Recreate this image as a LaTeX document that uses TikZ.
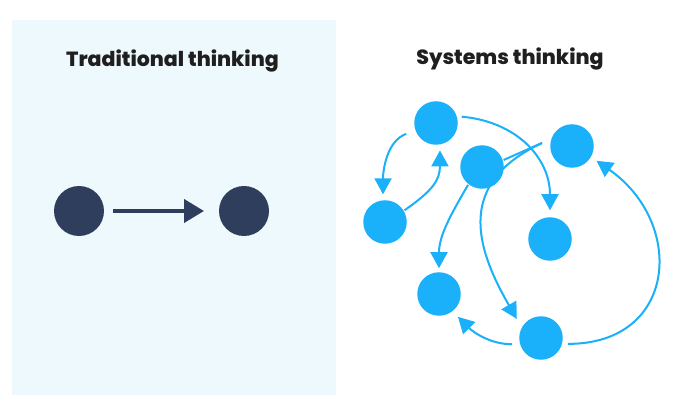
\documentclass[tikz,border=0pt]{standalone}
\usepackage{fontspec}
\setmainfont{Poppins}[BoldFont={Poppins ExtraBold}]
\usetikzlibrary{arrows.meta, positioning}
\definecolor{sysBlue}{HTML}{1AB0FA}
\definecolor{tradNavy}{HTML}{2F3E5C}
\definecolor{panelTint}{HTML}{EEF9FD}
\tikzset{
  % pixel-like units, y running downwards as in the reference
  every picture/.append style = {line width=2pt},
  heading/.style   = {font=\fontsize{20.5}{24}\selectfont\bfseries, text=black!88, anchor=base},
  tradnode/.style  = {circle, fill=tradNavy, minimum size=50pt, inner sep=0pt},
  sysnode/.style   = {circle, fill=sysBlue, minimum size=43.5pt, inner sep=0pt},
  tradarrow/.style = {-{Triangle[length=20pt, width=23pt]}, tradNavy, line width=4pt},
  sysarrow/.style  = {-{Triangle[length=16pt, width=17pt]}, sysBlue, line width=2pt},
  sysline/.style   = {sysBlue, line width=2pt},
}
\begin{document}
\begin{tikzpicture}[x=1pt,y=-1pt]
  \useasboundingbox (0,0) rectangle (680,395);
  \fill[white] (0,0) rectangle (680,395);
  \fill[panelTint] (12,20) rectangle (336,395);

  % left panel: one cause, one effect
  \node[heading] (tradtitle) at (172.5,66.7) {Traditional thinking};
  \node[tradnode] (cause)  at (79,211) {};
  \node[tradnode] (effect) at (244,211) {};
  \draw[tradarrow, shorten <=8pt, shorten >=14pt] (cause) -- (effect);

  % right panel: many nodes feeding back on each other
  \node[heading] (systitle) at (510,65) {Systems thinking};
  \node[sysnode] (a) at (436,123) {};
  \node[sysnode] (b) at (482,167) {};
  \node[sysnode] (c) at (572,146) {};
  \node[sysnode] (d) at (385,222) {};
  \node[sysnode] (e) at (550,239) {};
  \node[sysnode] (f) at (439,294) {};
  \node[sysnode] (g) at (541,338) {};
  \coordinate (cusp) at (542,143);

  \draw[sysarrow, shorten <=4pt, shorten >=6pt] (a.17) to[out=-5, in=90, looseness=1.1] (e.north);
  \draw[sysarrow, shorten <=9pt, shorten >=5pt] (a.200) to[out=200, in=90] (d.95);
  \draw[sysarrow, shorten >=5pt] (d.31) to[out=35, in=-90, looseness=1.2] (a.-80);
  \draw[sysarrow, shorten >=3pt] (b.232) to[out=240, in=90] (f.north);
  \draw[sysline] (b.18) -- (cusp);
  \draw[sysarrow, shorten >=9pt] (cusp) to[out=205, in=120, looseness=1.3] (g.150);
  \draw[sysarrow, shorten <=7pt, shorten >=7pt] (g.196) to[out=180, in=-45] (f.-52);
  \draw[sysarrow, shorten <=5pt, shorten >=6pt] (g.-15) to[out=0, in=-35, looseness=1.55] (c.-30);
\end{tikzpicture}
\end{document}
